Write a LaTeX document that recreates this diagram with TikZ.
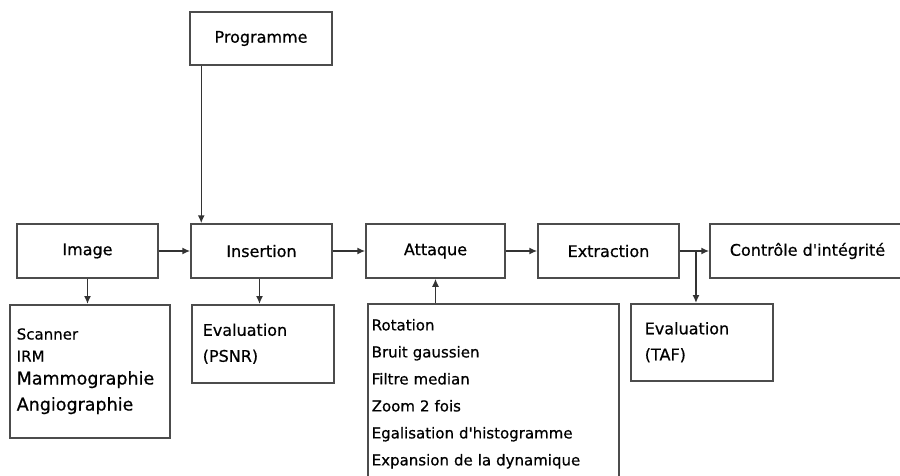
\documentclass[tikz,border=0pt]{standalone}
\usepackage{fontspec}
\setmainfont{DejaVu Sans}[FakeBold=0.6]
\usetikzlibrary{arrows.meta,positioning,calc}

\begin{document}
\begin{tikzpicture}[x=1pt, y=-1pt,
    every node/.style={font=\fontsize{16}{19}\selectfont, text=black},
    blk/.style={draw=black!70, line width=1.5pt, minimum height=54pt, inner sep=0pt},
    lst/.style={draw=black!70, line width=1.5pt, anchor=north west, align=left, inner ysep=0pt},
    arr/.style={-{Latex[length=8pt,width=7pt]}, line width=1.5pt, draw=black!80}]
  \useasboundingbox (0,0) rectangle (900,475);

  % main chain
  \node[blk, minimum width=142pt, minimum height=53pt] (prog) at (261,38.5) {Programme};
  \node[blk, minimum width=141pt] (img) at (87.5,251) {Image};
  \node[blk, minimum width=141pt] (ins) at (261.5,251) {Insertion};
  \node[blk, minimum width=139pt] (att) at (435.5,251) {Attaque};
  \node[blk, minimum width=141pt] (ext) at (608.5,251) {Extraction};
  \node[blk, minimum width=195pt] (ctrl) at (807.5,251) {Contrôle d\textquotesingle intégrité};

  % boxes below
  \node[lst, font=\fontsize{15}{22}\selectfont, minimum width=160pt, minimum height=133pt,
        inner xsep=7pt, text width=146pt] (imglist) at (9,304)
        {Scanner\\IRM\\[1pt]{\fontsize{17.5}{26}\selectfont Mammographie}\\[4pt]{\fontsize{17.5}{26}\selectfont Angiographie}};
  \node[lst, font=\fontsize{16}{26}\selectfont, minimum width=142pt, minimum height=78pt,
        inner xsep=11pt, text width=120pt] (psnr) at (191,304) {Evaluation\\(PSNR)};
  \node[lst, font=\fontsize{15}{27}\selectfont, minimum width=251pt, minimum height=180pt,
        inner xsep=4pt, text width=243pt] (attlist) at (367,303)
        {Rotation\\Bruit gaussien\\Filtre median\\Zoom 2 fois\\Egalisation d\textquotesingle histogramme\\Expansion de la dynamique};
  \node[lst, font=\fontsize{16}{26}\selectfont, minimum width=142pt, minimum height=77pt,
        inner xsep=14pt, text width=114pt] (taf) at (630,303) {Evaluation\\(TAF)};

  % connectors
  \draw[arr] ([xshift=12pt]prog.south west) -- ([xshift=11pt]ins.north west);
  \draw[arr] (img) -- (ins);
  \draw[arr] (ins) -- (att);
  \draw[arr] (att) -- (ext);
  \draw[arr] (ext) -- (ctrl);
  \coordinate (split) at ($(ext.east)!0.55!(ctrl.west)$);
  \draw[arr] (split) -- (split |- taf.north);
  \draw[arr] (img.south) -- (img.south |- imglist.north);
  \draw[arr] ([xshift=-2pt]ins.south) -- ([xshift=-2pt]ins.south |- psnr.north);
  \draw[arr] (attlist.north -| att.south) -- (att.south);
\end{tikzpicture}
\end{document}
